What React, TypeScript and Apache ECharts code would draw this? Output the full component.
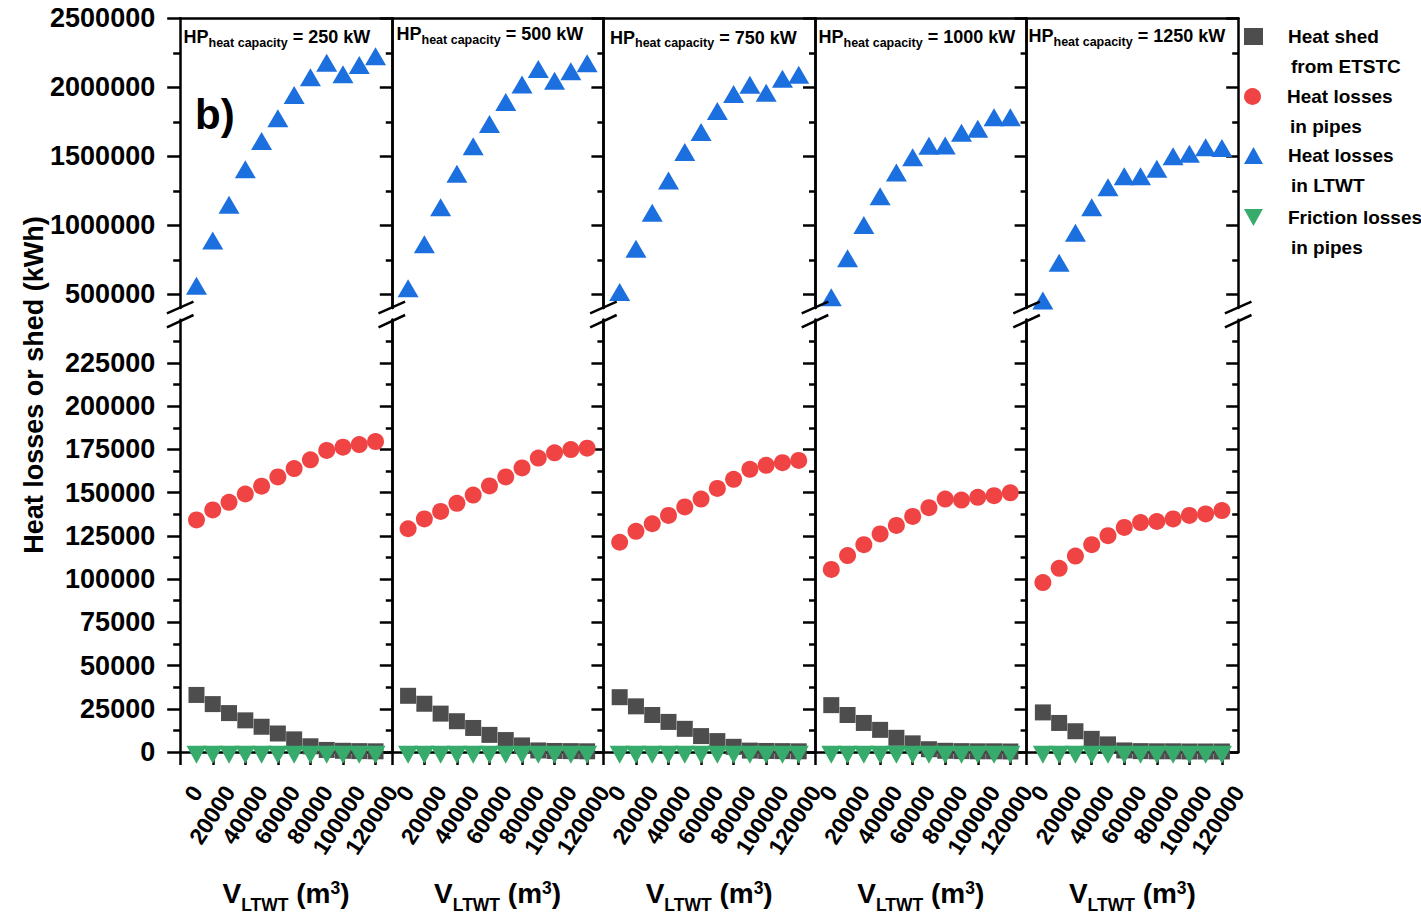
import React, { useEffect, useRef } from 'react';
import * as echarts from 'echarts';

// Storage volume of the low-temperature water tank (m3)
const volumes = [10000, 20000, 30000, 40000, 50000, 60000, 70000, 80000, 90000, 100000, 110000, 120000];
// Heat-pump heat capacity of each panel (kW)
const hpCapacities = ['250', '500', '750', '1000', '1250'];

// Heat shed from ETSTC (kWh), one row per heat-pump capacity
const heatShed = [
  [33000, 27700, 22500, 18300, 14600, 10700, 7300, 3300, 1200, 700, 500, 400],
  [32500, 27900, 22200, 17800, 13900, 9900, 6900, 3800, 900, 600, 500, 400],
  [31700, 26400, 21400, 17400, 13400, 9200, 6300, 3000, 800, 600, 500, 400],
  [27100, 21400, 16800, 12800, 8200, 5000, 1600, 700, 500, 400, 400, 300],
  [22900, 16800, 12000, 7600, 4400, 900, 500, 400, 400, 300, 300, 300],
];
// Heat losses in pipes (kWh)
const pipeHeatLosses = [
  [134200, 140000, 144400, 149200, 153700, 159100, 163900, 169000, 174400, 176300, 177800, 179500],
  [129100, 134800, 139100, 143800, 148600, 153900, 159100, 164300, 170000, 173000, 174900, 175700],
  [121300, 127600, 132000, 136800, 141700, 146300, 152400, 157700, 163500, 165800, 167300, 168600],
  [105600, 113600, 119900, 126100, 131000, 136200, 141300, 146300, 145700, 147300, 148200, 149900],
  [98000, 106200, 113300, 119900, 125100, 129900, 132700, 133300, 134800, 136800, 137700, 139600],
];
// Heat losses in LTWT (kWh)
const ltwtHeatLosses = [
  [561700, 890700, 1149000, 1405900, 1610900, 1775400, 1944200, 2073200, 2177500, 2094200, 2161600, 2224700],
  [543500, 862400, 1131200, 1373200, 1573200, 1734100, 1893500, 2020300, 2132600, 2047800, 2115900, 2174700],
  [516700, 830500, 1090600, 1324700, 1531200, 1676100, 1828300, 1951500, 2018900, 1960200, 2062300, 2091300],
  [479000, 761000, 1002200, 1210900, 1382700, 1493500, 1576100, 1578300, 1670300, 1700000, 1783400, 1783400],
  [455100, 728300, 945700, 1131200, 1276100, 1355900, 1355900, 1410200, 1500800, 1518200, 1566000, 1560200],
];
// Friction losses in pipes (kWh)
const pipeFrictionLosses = [
  [200, 200, 200, 200, 200, 200, 200, 200, 200, 200, 200, 200],
  [200, 200, 200, 200, 200, 200, 200, 200, 200, 200, 200, 200],
  [200, 200, 200, 200, 200, 200, 200, 200, 200, 200, 200, 200],
  [200, 200, 200, 200, 200, 200, 200, 200, 200, 200, 200, 200],
  [200, 200, 200, 200, 200, 200, 200, 200, 200, 200, 200, 200],
];

// Axis ticks (x labels split over two axes so the rotated labels never collide)
const xTicks = [0, 20000, 40000, 60000, 80000, 100000, 120000];
const xLabelsEven = [0, 40000, 80000, 120000];
const xLabelsOdd = [20000, 60000, 100000];
const upperMajorTicks = [500000, 1000000, 1500000, 2000000, 2500000];
const upperMinorTicks = [750000, 1250000, 1750000, 2250000];
const lowerMajorTicks = [0, 25000, 50000, 75000, 100000, 125000, 150000, 175000, 200000, 225000];
const lowerMinorTicks = [12500, 37500, 62500, 87500, 112500, 137500, 162500, 187500, 212500, 237500];

const SERIES_NAMES = ['Heat shed from ETSTC', 'Heat losses in pipes', 'Heat losses in LTWT', 'Friction losses in pipes'];
const LEGEND_LINES: Record<string, [string, string]> = {
  'Heat shed from ETSTC': ['Heat shed', 'from ETSTC'],
  'Heat losses in pipes': ['Heat losses', 'in pipes'],
  'Heat losses in LTWT': ['Heat losses', 'in LTWT'],
  'Friction losses in pipes': ['Friction losses', 'in pipes'],
};

const FONT = '"Liberation Sans", Arial, Helvetica, sans-serif';
const COLORS = { shed: '#4d4d4d', pipes: '#f04444', ltwt: '#1c6fde', friction: '#37ab6b' };
const DOWN_TRIANGLE = 'path://M0,0L20,0L10,18Z';

const PANEL_LEFT = 180.2;
const PANEL_W = 211.6;
const UPPER_TOP = 18.3;
const UPPER_H = 289.8;
const UPPER_MIN = 400000;
const UPPER_MAX = 2500000;
const LOWER_TOP = 319.7;
const LOWER_H = 436.3;
const LOWER_MIN = 0;
const LOWER_MAX = 250000;
const X_MIN = 0;
const X_MAX = 130000;

const AXIS_LINE = { color: '#000', width: 2.5 };

const xLabelStyle = (values: number[]) => ({
  show: true, customValues: values, rotate: 57, margin: 25,
  verticalAlign: 'top', lineHeight: 40,
  fontSize: 23, fontWeight: 'bold', color: '#000', fontFamily: FONT,
  formatter: (v: number) => String(v),
});

function buildOption(): echarts.EChartsOption {
  const grid: any[] = [];
  const xAxis: any[] = [];
  const yAxis: any[] = [];
  const series: any[] = [];
  const title: any[] = [];
  const graphic: any[] = [];

  const titleLeft = [183.5, 396.5, 610, 818.5, 1028.5];
  const titleTop = [25, 22, 25.5, 25, 24];

  for (let p = 0; p < hpCapacities.length; p++) {
    const left = PANEL_LEFT + p * PANEL_W;
    const mainX: number[] = [];
    const mainY: number[] = [];
    for (let s = 0; s < 2; s++) {
      const upper = s === 0;
      const gi = grid.length;
      grid.push({ left, top: upper ? UPPER_TOP : LOWER_TOP, width: PANEL_W, height: upper ? UPPER_H : LOWER_H });

      mainX.push(xAxis.length);
      if (upper) {
        xAxis.push({
          type: 'value', gridIndex: gi, position: 'top', min: X_MIN, max: X_MAX,
          axisLine: { show: true, onZero: false, lineStyle: AXIS_LINE },
          axisTick: { show: false }, axisLabel: { show: false }, splitLine: { show: false },
        });
      } else {
        xAxis.push({
          type: 'value', gridIndex: gi, position: 'bottom', min: X_MIN, max: X_MAX,
          axisLine: { show: true, onZero: false, lineStyle: AXIS_LINE },
          axisTick: { show: true, customValues: xTicks, length: 13, lineStyle: AXIS_LINE },
          axisLabel: xLabelStyle(xLabelsEven),
          splitLine: { show: false },
          name: '{v|V}{sub|LTWT}{v| (m}{sup|3}{v|)}',
          nameLocation: 'middle', nameGap: 120,
          nameTextStyle: {
            rich: {
              v: { fontSize: 28, fontWeight: 'bold', color: '#000', fontFamily: FONT, lineHeight: 40 },
              sub: { fontSize: 17.5, fontWeight: 'bold', color: '#000', fontFamily: FONT, verticalAlign: 'middle', padding: [24, 0, 0, 0] },
              sup: { fontSize: 17.5, fontWeight: 'bold', color: '#000', fontFamily: FONT, verticalAlign: 'middle', padding: [0, 0, 10, 0] },
            },
          },
        });
        xAxis.push({
          type: 'value', gridIndex: gi, position: 'bottom', min: X_MIN, max: X_MAX,
          axisLine: { show: false, onZero: false },
          axisTick: { show: false },
          axisLabel: xLabelStyle(xLabelsOdd),
          splitLine: { show: false },
        });
      }

      const min = upper ? UPPER_MIN : LOWER_MIN;
      const max = upper ? UPPER_MAX : LOWER_MAX;
      const major = upper ? upperMajorTicks : lowerMajorTicks;
      const minor = upper ? upperMinorTicks : lowerMinorTicks;

      mainY.push(yAxis.length);
      yAxis.push({
        type: 'value', gridIndex: gi, position: 'left', min, max,
        axisLine: { show: true, onZero: false, lineStyle: AXIS_LINE },
        axisTick: p === 0 ? { show: true, customValues: major, length: 13, lineStyle: AXIS_LINE } : { show: false },
        axisLabel: p === 0
          ? { show: true, customValues: major, margin: 25, showMinLabel: true, showMaxLabel: true, fontSize: 27, fontWeight: 'bold', color: '#000', fontFamily: FONT, formatter: (v: number) => String(v) }
          : { show: false },
        splitLine: { show: false },
      });
      if (p === 0) {
        yAxis.push({
          type: 'value', gridIndex: gi, position: 'left', min, max,
          axisLine: { show: false, onZero: false },
          axisTick: { show: true, customValues: minor, length: 7, lineStyle: AXIS_LINE },
          axisLabel: { show: false }, splitLine: { show: false },
        });
      }
      yAxis.push({
        type: 'value', gridIndex: gi, position: 'right', min, max,
        axisLine: { show: true, onZero: false, lineStyle: AXIS_LINE },
        axisTick: { show: true, inside: true, customValues: major, length: 12, lineStyle: AXIS_LINE },
        axisLabel: { show: false }, splitLine: { show: false },
      });
      yAxis.push({
        type: 'value', gridIndex: gi, position: 'right', min, max,
        axisLine: { show: false, onZero: false },
        axisTick: { show: true, inside: true, customValues: minor, length: 6, lineStyle: AXIS_LINE },
        axisLabel: { show: false }, splitLine: { show: false },
      });
    }

    const [upperX, lowerX] = mainX;
    const [upperY, lowerY] = mainY;

    series.push({
      type: 'scatter', name: SERIES_NAMES[0], xAxisIndex: lowerX, yAxisIndex: lowerY,
      data: volumes.map((v, i) => [v, heatShed[p][i]]),
      symbol: 'rect', symbolSize: 16, itemStyle: { color: COLORS.shed, opacity: 1 }, clip: false,
    });
    series.push({
      type: 'scatter', name: SERIES_NAMES[1], xAxisIndex: lowerX, yAxisIndex: lowerY,
      data: volumes.map((v, i) => [v, pipeHeatLosses[p][i]]),
      symbol: 'circle', symbolSize: 17, itemStyle: { color: COLORS.pipes, opacity: 1 }, clip: false,
    });
    series.push({
      type: 'scatter', name: SERIES_NAMES[2], xAxisIndex: upperX, yAxisIndex: upperY,
      data: volumes.map((v, i) => [v, ltwtHeatLosses[p][i]]),
      symbol: 'triangle', symbolSize: [21, 18], itemStyle: { color: COLORS.ltwt, opacity: 1 }, clip: false,
    });
    series.push({
      type: 'scatter', name: SERIES_NAMES[3], xAxisIndex: lowerX, yAxisIndex: lowerY,
      data: volumes.map((v, i) => [v, pipeFrictionLosses[p][i]]),
      symbol: DOWN_TRIANGLE, symbolSize: [20, 18], symbolOffset: [0, 3],
      itemStyle: { color: COLORS.friction, opacity: 1 }, clip: false,
    });

    title.push({
      left: titleLeft[p], top: titleTop[p], padding: 0,
      text: `{hp|HP}{sub|heat capacity}{hp| = ${hpCapacities[p]} kW}`,
      textStyle: {
        rich: {
          hp: { fontSize: 18, fontWeight: 'bold', color: '#000', fontFamily: FONT, lineHeight: 24 },
          sub: { fontSize: 12.5, fontWeight: 'bold', color: '#000', fontFamily: FONT, lineHeight: 13, verticalAlign: 'bottom' },
        },
      },
    });
  }

  // axis-break marks on every spine
  for (let k = 0; k <= hpCapacities.length; k++) {
    const x = PANEL_LEFT + k * PANEL_W;
    graphic.push({ type: 'line', shape: { x1: x - 13.3, y1: 313.3, x2: x + 13.3, y2: 301.7 }, style: { stroke: '#000', lineWidth: 2.5 }, z: 100 });
    graphic.push({ type: 'line', shape: { x1: x - 13.3, y1: 327.3, x2: x + 13.3, y2: 315 }, style: { stroke: '#000', lineWidth: 2.5 }, z: 100 });
  }
  graphic.push({
    type: 'text', x: 33.5, y: 385, rotation: Math.PI / 2,
    style: { text: 'Heat losses or shed (kWh)', font: `bold 27px ${FONT}`, fill: '#000', align: 'center', verticalAlign: 'middle' },
  });
  graphic.push({
    type: 'text', x: 195, y: 114,
    style: { text: 'b)', font: `bold 42px ${FONT}`, fill: '#000', align: 'left', verticalAlign: 'middle' },
  });

  const legendCenters = [35.5, 95.5, 154.5, 216.5];
  const legend = SERIES_NAMES.map((name, i) => ({
    data: [name], orient: 'vertical', left: 1244, top: legendCenters[i] - 8.5, padding: 0,
    itemWidth: 19, itemHeight: 17, selectedMode: false,
    formatter: (n: string) => `{a|${LEGEND_LINES[n][0]}}\n{b|${LEGEND_LINES[n][1]}}`,
    textStyle: {
      padding: [30, 0, 0, 20],
      rich: {
        a: { fontSize: 19, fontWeight: 'bold', color: '#000', fontFamily: FONT, lineHeight: 30 },
        b: { fontSize: 19, fontWeight: 'bold', color: '#000', fontFamily: FONT, lineHeight: 30, padding: [0, 0, 0, 3] },
      },
    },
  }));

  return {
    animation: false,
    backgroundColor: '#fff',
    grid, xAxis, yAxis, series, title, graphic, legend,
  } as any;
}

export default function App() {
  const ref = useRef<HTMLDivElement>(null);
  useEffect(() => {
    if (!ref.current) return;
    const chart = echarts.init(ref.current, undefined, { renderer: 'svg' });
    chart.setOption(buildOption());
    return () => chart.dispose();
  }, []);
  return <div ref={ref} style={{ position: 'fixed', left: 0, top: 0, width: 1421, height: 915 }} />;
}
